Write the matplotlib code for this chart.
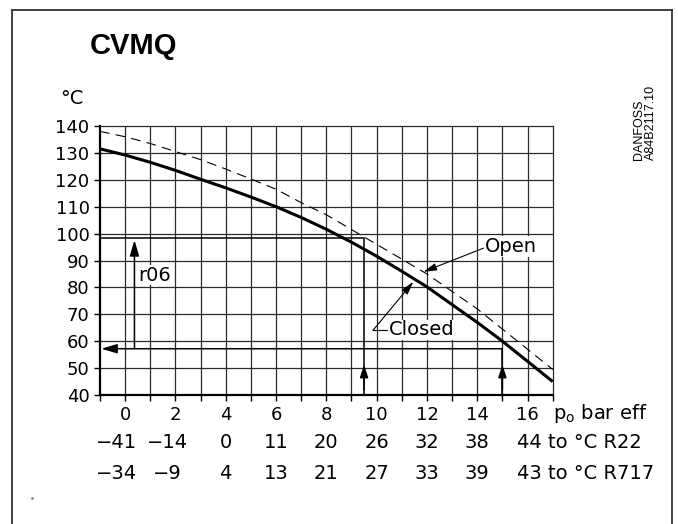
import matplotlib
matplotlib.use("Agg")
import matplotlib.pyplot as plt
from matplotlib.lines import Line2D

# suction pressure p_o (bar eff) and valve temperature curves (deg C)
pressure = [-1, 0, 1, 2, 3, 4, 5, 6, 7, 8, 9, 10, 11, 12, 13, 14, 15, 16, 17]
temp_closed = [131.5, 129.2, 126.5, 123.5, 120.2, 117.0, 113.6, 110.0, 106.0, 101.6,
               96.8, 91.6, 86.0, 80.2, 73.6, 67.0, 60.0, 52.5, 45.0]
temp_open = [138.0, 136.0, 133.5, 130.5, 127.5, 124.0, 120.3, 116.5, 111.5, 107.0,
             101.5, 96.0, 90.5, 85.0, 78.5, 72.0, 64.5, 57.0, 49.5]

# bottom scales
p_ticks = [0, 2, 4, 6, 8, 10, 12, 14, 16]
r22_temps = [-41, -14, 0, 11, 20, 26, 32, 38]
r717_temps = [-34, -9, 4, 13, 21, 27, 33, 39]
r22_last = "44 to °C R22"
r717_last = "43 to °C R717"
y_ticks = [40, 50, 60, 70, 80, 90, 100, 110, 120, 130, 140]

# r06 example reading
r06_high_p, r06_high_t = 9.5, 98.5
r06_low_p, r06_low_t = 15.0, 57.2
r06_arrow_x, r06_arrow_top = 0.37, 97.6

fig = plt.figure(figsize=(6.78, 5.24), dpi=100)
ax = fig.add_axes([100 / 678, 129 / 524, 452.7 / 678, 269 / 524])
ax.set_xlim(-1, 17)
ax.set_ylim(40, 140)

# grid
for x in range(0, 17):
    ax.axvline(x, color="#2a2a2a", lw=0.9, zorder=1)
for y in y_ticks[1:-1]:
    ax.axhline(y, color="#2a2a2a", lw=0.9, zorder=1)

for side in ["top", "right"]:
    ax.spines[side].set_linewidth(0.9)
    ax.spines[side].set_color("#2a2a2a")
for side in ["left", "bottom"]:
    ax.spines[side].set_linewidth(1.6)

ax.set_xticks(range(-1, 18))
ax.set_xticklabels([str(x) if x in p_ticks else "" for x in range(-1, 18)], fontsize=13)
ax.set_yticks(y_ticks)
ax.set_yticklabels([str(y) for y in y_ticks], fontsize=13)
ax.tick_params(axis="both", direction="out", length=4, width=1, color="black")
ax.tick_params(axis="x", pad=4)
ax.tick_params(axis="y", pad=3.5)

# curves
ax.plot(pressure, temp_closed, color="black", lw=2.2, zorder=4, solid_capstyle="butt")
ax.plot(pressure, temp_open, color="black", lw=0.8, ls=(0, (8.75, 5.6)), zorder=4)

# r06 reference lines and arrows
ax.plot([-1, r06_high_p, r06_high_p], [r06_high_t, r06_high_t, 40], color="black", lw=1.1, zorder=3)
ax.plot([r06_low_p, r06_low_p], [r06_low_t, 40], color="black", lw=1.1, zorder=3)
big = dict(arrowstyle="-|>,head_length=0.95,head_width=0.28", color="black", lw=1.1,
           shrinkA=0, shrinkB=0, mutation_scale=10)
small = dict(arrowstyle="-|>,head_length=0.75,head_width=0.25", color="black", lw=1.1,
             shrinkA=0, shrinkB=0, mutation_scale=10)
ax.annotate("", xy=(-0.95, r06_low_t), xytext=(r06_low_p, r06_low_t), arrowprops=big)
ax.annotate("", xy=(r06_arrow_x, r06_arrow_top), xytext=(r06_arrow_x, r06_low_t), arrowprops=big)
ax.annotate("", xy=(r06_high_p, 51.2), xytext=(r06_high_p, 42), arrowprops=small)
ax.annotate("", xy=(r06_low_p, 51.2), xytext=(r06_low_p, 42), arrowprops=small)
ax.text(0.52, 84.6, "r06", fontsize=14, ha="left", va="center", zorder=5,
        bbox=dict(facecolor="white", edgecolor="none", pad=0.5))

# curve labels
lead = dict(arrowstyle="-|>,head_length=0.8,head_width=0.22", color="black", lw=0.8,
            shrinkA=0, shrinkB=0, mutation_scale=10)
ax.annotate("", xy=(11.86, 85.8), xytext=(14.25, 94.6), arrowprops=lead)
ax.text(14.3, 95.3, "Open", fontsize=14, ha="left", va="center", zorder=5,
        bbox=dict(facecolor="white", edgecolor="none", pad=0.5))
ax.plot([9.85, 10.45], [64.0, 64.0], color="black", lw=0.8)
ax.annotate("", xy=(11.46, 82.1), xytext=(9.85, 64.0), arrowprops=lead)
ax.text(10.5, 64.2, "Closed", fontsize=14, ha="left", va="center", zorder=5,
        bbox=dict(facecolor="white", edgecolor="none", pad=0.5))

# bottom scales
xt = ax.get_xaxis_transform()
ax.text(17.0, -0.067, r"p$_\mathregular{o}$ bar eff", transform=xt, fontsize=14,
        ha="left", va="center", clip_on=False)
for row_vals, last, yy in [(r22_temps, r22_last, -0.178), (r717_temps, r717_last, -0.290)]:
    for p, v in zip(p_ticks, row_vals):
        s = str(v).replace("-", "\u2212")
        off = -0.33 if v < 0 else 0.0
        ax.text(p + off, yy, s, transform=xt, fontsize=14, ha="center", va="center", clip_on=False)
    ax.text(15.6, yy, last, transform=xt, fontsize=14, ha="left", va="center", clip_on=False)

# titles
fig.text(90 / 678, 1 - 46 / 524, "CVMQ", fontsize=21, fontweight="bold",
         family="Liberation Sans", ha="left", va="center")
fig.text(60 / 678, 1 - 98 / 524, "°C", fontsize=14, ha="left", va="center")
fig.text(645 / 678, 1 - 160 / 524, "DANFOSS\nA84B2117.10", fontsize=9, family="Liberation Sans",
         rotation=90, ha="center", va="bottom", multialignment="left", linespacing=0.95)

# outer frame
fig.add_artist(Line2D([11.7 / 678, 11.7 / 678], [0, 1 - 10 / 524], color="#333333", lw=1.3))
fig.add_artist(Line2D([11.7 / 678, 671.7 / 678], [1 - 10 / 524, 1 - 10 / 524], color="#333333", lw=1.3))
fig.add_artist(Line2D([671.7 / 678, 671.7 / 678], [0, 1 - 10 / 524], color="#333333", lw=1.3))
fig.add_artist(Line2D([32 / 678], [1 - 498 / 524], marker="o", markersize=1, color="#888888", lw=0))

fig.savefig("out.png", dpi=100)
